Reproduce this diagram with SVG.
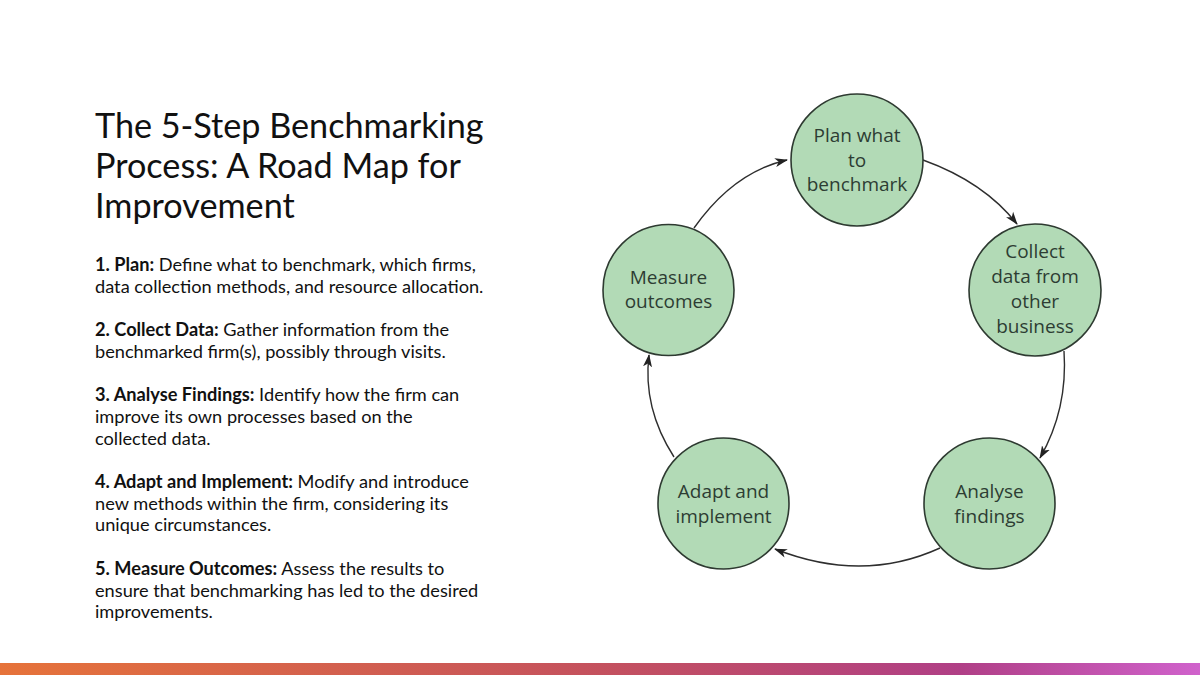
<svg xmlns="http://www.w3.org/2000/svg" width="1200" height="675" viewBox="0 0 1200 675">
<style>
.title{font-family:Lato,"Liberation Sans",sans-serif;font-size:34.2px;fill:#111}
.body{font-family:Lato,"Liberation Sans",sans-serif;font-size:18.2px;fill:#111}
.b{font-weight:bold}
.node circle{fill:#b2dab6;stroke:#2e3a31;stroke-width:1.6}
.node text{font-family:"Open Sans","Noto Sans",sans-serif;font-size:19px;fill:#2d3d33;text-anchor:middle}
.conn path{fill:none;stroke:#2e2e2e;stroke-width:1.4}
</style>
<defs>
<marker id="arr" viewBox="0 0 13 10" refX="12" refY="5" markerWidth="13" markerHeight="10" markerUnits="userSpaceOnUse" orient="auto">
<path d="M0,0.5 L13,5 L0,9.5 L3.5,5 z" fill="#222"/>
</marker>
<linearGradient id="bar" x1="0" y1="0" x2="1" y2="0">
<stop offset="0" stop-color="#e6733a"/>
<stop offset="0.5" stop-color="#c4515e"/>
<stop offset="0.8" stop-color="#b03f86"/>
<stop offset="1" stop-color="#d062cc"/>
</linearGradient>
</defs>
<rect width="1200" height="675" fill="#fff"/>
<g id="title">
<text class="title" x="95" y="138">The 5-Step Benchmarking</text>
<text class="title" x="95" y="178">Process: A Road Map for</text>
<text class="title" x="95" y="218">Improvement</text>
</g>
<g id="steps">
<text class="body" x="95" y="271"><tspan class="b">1. Plan:</tspan> Define what to benchmark, which firms,</text>
<text class="body" x="95" y="292.7">data collection methods, and resource allocation.</text>
<text class="body" x="95" y="336"><tspan class="b">2. Collect Data:</tspan> Gather information from the</text>
<text class="body" x="95" y="357.8">benchmarked firm(s), possibly through visits.</text>
<text class="body" x="95" y="401.2"><tspan class="b">3. Analyse Findings:</tspan> Identify how the firm can</text>
<text class="body" x="95" y="422.9">improve its own processes based on the</text>
<text class="body" x="95" y="444.6">collected data.</text>
<text class="body" x="95" y="488"><tspan class="b">4. Adapt and Implement:</tspan> Modify and introduce</text>
<text class="body" x="95" y="509.7">new methods within the firm, considering its</text>
<text class="body" x="95" y="531.4">unique circumstances.</text>
<text class="body" x="95" y="574.8"><tspan class="b">5. Measure Outcomes:</tspan> Assess the results to</text>
<text class="body" x="95" y="596.5">ensure that benchmarking has led to the desired</text>
<text class="body" x="95" y="618.2">improvements.</text>
</g>
<g id="connectors" class="conn">
<path d="M694,228 Q733.5,172 787,160" marker-end="url(#arr)"/>
<path d="M923,160 Q984,182 1017,224" marker-end="url(#arr)"/>
<path d="M1064,351 Q1068,409 1040,458" marker-end="url(#arr)"/>
<path d="M940,548 Q862.5,583.5 775,549" marker-end="url(#arr)"/>
<path d="M674,457 Q642.5,408 649,355" marker-end="url(#arr)"/>
</g>
<g id="node-plan" class="node">
<circle cx="857" cy="160" r="66"/>
<text x="857" y="142">Plan what</text>
<text x="857" y="167">to</text>
<text x="857" y="191">benchmark</text>
</g>
<g id="node-collect" class="node">
<circle cx="1035" cy="290" r="66"/>
<text x="1035" y="258">Collect</text>
<text x="1035" y="283">data from</text>
<text x="1035" y="308">other</text>
<text x="1035" y="333">business</text>
</g>
<g id="node-analyse" class="node">
<circle cx="989.5" cy="503.5" r="65.5"/>
<text x="989.5" y="498">Analyse</text>
<text x="989.5" y="523">findings</text>
</g>
<g id="node-adapt" class="node">
<circle cx="723.5" cy="503.5" r="65.5"/>
<text x="723.5" y="498">Adapt and</text>
<text x="723.5" y="523">implement</text>
</g>
<g id="node-measure" class="node">
<circle cx="668.5" cy="290" r="65.5"/>
<text x="668.5" y="284">Measure</text>
<text x="668.5" y="308">outcomes</text>
</g>
<rect id="bottom-bar" x="0" y="663" width="1200" height="12" fill="url(#bar)"/>
</svg>
